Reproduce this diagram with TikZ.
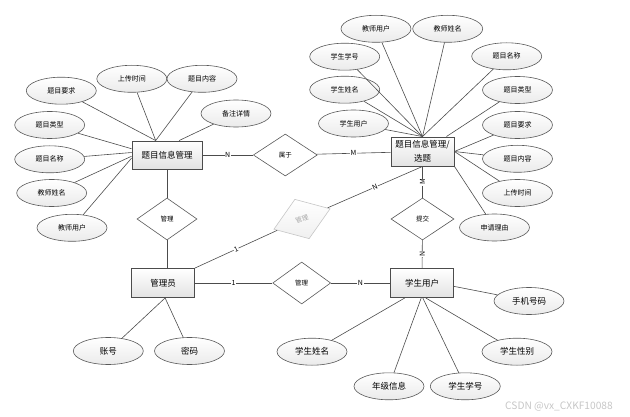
\documentclass[tikz,border=0pt]{standalone}
\usepackage{fontspec}
\setmainfont{Noto Sans CJK SC}
\usetikzlibrary{shapes.geometric}
\begin{document}
\begin{tikzpicture}[x=1pt,y=-1pt,
  ent/.style={draw=black!70, line width=0.9pt, rectangle, minimum width=63pt, minimum height=29pt,
    top color=white, bottom color=gray!22, font=\fontsize{8.5}{14}\selectfont, inner sep=1pt, align=center},
  attr/.style={ellipse, draw=black!65, line width=0.6pt, minimum width=70pt, minimum height=27pt,
    top color=white, bottom color=gray!16, font=\fontsize{7}{8}\selectfont, inner sep=0pt},
  battr/.style={attr, font=\fontsize{8.5}{10}\selectfont},
  relbox/.style={diamond, draw=black!65, line width=0.6pt, minimum width=60pt, minimum height=42pt,
    fill=white, font=\fontsize{6.5}{7}\selectfont, inner sep=0pt},
  ln/.style={draw=black!70, line width=0.6pt},
  lab/.style={fill=white, inner sep=0.6pt, font=\fontsize{7}{8}\selectfont}
]
\useasboundingbox (0,0) rectangle (630,417);

% entities
\node[ent, minimum width=70pt, minimum height=28pt] (T1) at (167,155) {题目信息管理};
\node[ent] (T2) at (422.5,151.5) {题目信息管理/\\选题};
\node[ent] (M) at (163,283) {管理员};
\node[ent] (S) at (422,283) {学生用户};

% relationships
\node[relbox, minimum width=64pt] (R1) at (285.3,155) {属于};
\node[relbox] (R2) at (167,219) {管理};
\node[relbox, minimum width=58pt] (R3) at (301.7,283) {管理};
\node[relbox, minimum width=63pt] (R4) at (422.5,219) {提交};
\node[relbox, rotate=20, draw=gray!45, top color=white, bottom color=gray!12, text=gray!70] (R5) at (302,219) {管理};

% left attributes
\node[attr] (a1) at (61.3,90.7) {题目要求};
\node[attr] (a2) at (131.8,78.8) {上传时间};
\node[attr] (a3) at (202,78.8) {题目内容};
\node[attr] (a4) at (236,113.5) {备注详情};
\node[attr] (a5) at (49.7,125) {题目类型};
\node[attr] (a6) at (49.7,159.3) {题目名称};
\node[attr] (a7) at (51.7,193) {教师姓名};
\node[attr] (a8) at (72,227.8) {教师用户};

% right attributes
\node[attr] (b1) at (376,28.8) {教师用户};
\node[attr] (b2) at (447.7,28.8) {教师姓名};
\node[attr] (b3) at (344.7,56.7) {学生学号};
\node[attr] (b4) at (506.7,56.3) {题目名称};
\node[attr] (b5) at (344.7,89.7) {学生姓名};
\node[attr] (b6) at (517.5,90) {题目类型};
\node[attr] (b7) at (353.5,123.5) {学生用户};
\node[attr] (b8) at (517.5,125) {题目要求};
\node[attr] (b9) at (517.5,158.8) {题目内容};
\node[attr] (b10) at (517.5,193) {上传时间};
\node[attr] (b11) at (494.5,227.5) {申请理由};

% bottom attributes
\node[battr] (c1) at (529,301) {手机号码};
\node[battr] (c2) at (312,351.7) {学生姓名};
\node[battr] (c3) at (517,351.7) {学生性别};
\node[battr] (c4) at (389,386.3) {年级信息};
\node[battr] (c5) at (465.3,386.3) {学生学号};
\node[battr] (d1) at (108.3,351) {账号};
\node[battr] (d2) at (189.5,351) {密码};

% attribute links
\foreach \a in {a1,a2,a3} \draw[ln] (\a) -- (T1.128);
\draw[ln] (a4) -- (T1.50);
\draw[ln] (a5) -- (T1.170);
\draw[ln] (a6) -- (T1.176);
\draw[ln] (a7) -- (T1.182);
\draw[ln] (a8) -- (T1.185);

\foreach \b in {b1,b2,b3,b4,b5,b7} \draw[ln] (\b) -- (T2.north);
\draw[ln] (b6) -- (T2.32);
\foreach \b in {b8,b9,b10} \draw[ln] (\b) -- (T2.east);
\draw[ln] (b11) -- (T2.-25);

\draw[ln] (c1) -- (S.354);
\draw[ln] (c2) -- (S.221);
\draw[ln] (c4) -- (S.267);
\draw[ln] (c5) -- (S.273);
\draw[ln] (c3) -- (S.284);

\draw[ln] (d1) -- (M.278);
\draw[ln] (d2) -- (M.278);

% relationship links
\draw[ln] (T1) -- node[lab]{N} (R1);
\draw[ln] (R1) -- node[lab]{M} (T2);
\draw[ln] (T1) -- (R2);
\draw[ln] (R2.south) -- (R2.south |- M.north);
\draw[ln] (M) -- node[lab]{1} (R3);
\draw[ln] (R3) -- node[lab]{N} (S);
\draw[ln] (T2) -- node[lab, rotate=90]{M} (R4);
\draw[ln] (R4) -- node[lab, rotate=90]{N} (S);
\draw[ln] (M.north east) -- node[lab, sloped]{1} (R5);
\draw[ln] (R5) -- node[lab, sloped]{N} (T2.south);

% watermark
\node[text=gray!45, font=\fontsize{10.2}{11}\selectfont, anchor=west, inner sep=0pt] (wm) at (505,406.5) {CSDN @vx\_CXKF10088};
\end{tikzpicture}
\end{document}
